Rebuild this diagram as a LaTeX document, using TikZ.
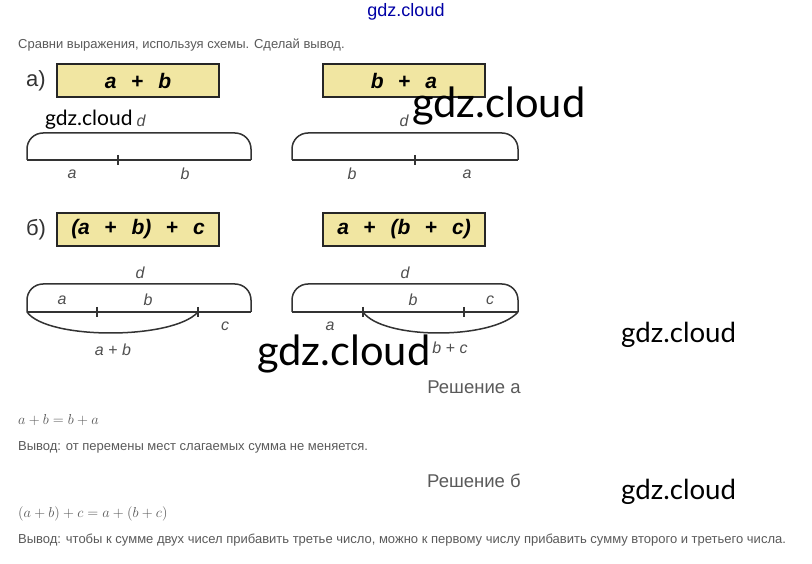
\documentclass[tikz,border=0pt]{standalone}
\usepackage{fontspec}
\setmainfont{Liberation Sans}
\newfontfamily\wmfont{Lato}
\newfontfamily\webfont{Liberation Sans}
\definecolor{boxyellow}{HTML}{F1E6A2}
\definecolor{webgray}{HTML}{5A5A5A}
\definecolor{lblgray}{HTML}{505050}
\newcommand{\bplus}{\hspace{0.7em}{\upshape+}\hspace{0.7em}}
\begin{document}
\begin{tikzpicture}[x=1pt,y=-1pt,
  box/.style={draw=black!85, line width=1.3pt, fill=boxyellow, minimum width=162pt, minimum height=33pt, inner sep=0pt, font=\fontsize{21}{23}\selectfont\bfseries\itshape},
  seg/.style={line width=1.5pt, draw=black!80},
  brace/.style={seg, rounded corners=16pt},
  lbl/.style={font=\fontsize{16}{18}\selectfont\itshape, text=lblgray, inner sep=0pt},
  part/.style={font=\fontsize{22}{24}\selectfont, text=black!80, inner sep=0pt},
  wmsmall/.style={font=\wmfont\fontsize{21}{22}\selectfont, inner sep=0pt, anchor=base west},
  wmmid/.style={font=\wmfont\fontsize{27.6}{29}\selectfont, inner sep=0pt, anchor=base west},
  wmbig/.style={font=\wmfont\fontsize{41.6}{43}\selectfont, inner sep=0pt, anchor=base west},
  web/.style={font=\webfont\fontsize{13}{15}\selectfont, text=webgray, anchor=west, inner sep=0pt},
  head/.style={font=\webfont\fontsize{18.5}{20}\selectfont, text=webgray, inner sep=0pt},
  mathline/.style={font=\fontsize{14.6}{16}\selectfont, text=webgray, anchor=west, inner sep=0pt}
]
\useasboundingbox[fill=white] (0,0) rectangle (812,564);

% top watermark
\node[font=\webfont\fontsize{18}{20}\selectfont, text=blue!65!black, inner sep=0pt] (topwm) at (406,12) {gdz.cloud};
\node[web] (task) at (18,45) {Сравни выражения, используя схемы. Сделай вывод.};

% ---------- part a ----------
\node[part] (pa) at (36,81) {а)};
\node[box] (boxab) at (138,80.5) {a\bplus b};
\node[box] (boxba) at (404,80.5) {b\bplus a};

% left scheme a
\coordinate (A0) at (27,160);
\coordinate (A1) at (118,160);
\coordinate (A2) at (251,160);
\coordinate (Atop) at (0,133);
\draw[brace] (A0) -- (A0 |- Atop) -- (A2 |- Atop) -- (A2);
\draw[seg] (A0) -- (A2);
\draw[seg] ([yshift=5pt]A1) -- ([yshift=-5pt]A1);
\node[lbl] (Ad) at (141,121) {d};
\node[lbl] (Aa) at (72,174) {a};
\node[lbl] (Ab) at (185,174) {b};

% right scheme a
\coordinate (B0) at (292,160);
\coordinate (B1) at (415,160);
\coordinate (B2) at (518,160);
\draw[brace] (B0) -- (B0 |- Atop) -- (B2 |- Atop) -- (B2);
\draw[seg] (B0) -- (B2);
\draw[seg] ([yshift=5pt]B1) -- ([yshift=-5pt]B1);
\node[lbl] (Bd) at (404,121) {d};
\node[lbl] (Bb) at (352,174) {b};
\node[lbl] (Ba) at (467,174) {a};

% ---------- part b ----------
\node[part] (pb) at (36,230) {б)};
\node[box] (boxabc) at (138,229.5) {(a\bplus b)\bplus c};
\node[box] (boxabc2) at (404,229.5) {a\bplus (b\bplus c)};

% left scheme b
\coordinate (C0) at (27,312);
\coordinate (C1) at (97,312);
\coordinate (C2) at (198,312);
\coordinate (C3) at (251,312);
\coordinate (Ctop) at (0,284);
\draw[brace] (C0) -- (C0 |- Ctop) -- (C3 |- Ctop) -- (C3);
\draw[seg] (C0) -- (C3);
\draw[seg] ([yshift=5pt]C1) -- ([yshift=-5pt]C1);
\draw[seg] ([yshift=5pt]C2) -- ([yshift=-5pt]C2);
\draw[seg] (C0) .. controls ([shift={(20,28)}]C0) and ([shift={(-25,28)}]C2) .. (C2);
\node[lbl] (Cd) at (140,273) {d};
\node[lbl] (Ca) at (62,300) {a};
\node[lbl] (Cb) at (148,300) {b};
\node[lbl] (Cc) at (225,326) {c};
\node[lbl] (Cab) at (113,350) {a {\upshape+} b};

% right scheme b
\coordinate (D0) at (292,312);
\coordinate (D1) at (363,312);
\coordinate (D2) at (464,312);
\coordinate (D3) at (518,312);
\draw[brace] (D0) -- (D0 |- Ctop) -- (D3 |- Ctop) -- (D3);
\draw[seg] (D0) -- (D3);
\draw[seg] ([yshift=5pt]D1) -- ([yshift=-5pt]D1);
\draw[seg] ([yshift=5pt]D2) -- ([yshift=-5pt]D2);
\draw[seg] (D1) .. controls ([shift={(20,28)}]D1) and ([shift={(-25,28)}]D3) .. (D3);
\node[lbl] (Dd) at (405,273) {d};
\node[lbl] (Db) at (413,300) {b};
\node[lbl] (Dc) at (490,300) {c};
\node[lbl] (Da) at (330,326) {a};
\node[lbl] (Dbc) at (450,348) {b {\upshape+} c};

% watermarks
\node[wmsmall] (wm1) at (45,126) {gdz.cloud};
\node[wmbig] (wm2) at (412,118) {gdz.cloud};
\node[wmbig] (wm3) at (257,365) {gdz.cloud};
\node[wmmid] (wm4) at (621,343) {gdz.cloud};
\node[wmmid] (wm5) at (621,499) {gdz.cloud};

% solutions
\node[head] (sa) at (474,387) {Решение а};
\node[mathline] (ma) at (18,420) {$a+b=b+a$};
\node[web] (va) at (18,447) {Вывод: от перемены мест слагаемых сумма не меняется.};
\node[head] (sb) at (474,481) {Решение б};
\node[mathline] (mb) at (18,514) {$(a+b)+c=a+(b+c)$};
\node[web] (vb) at (18,540) {Вывод: чтобы к сумме двух чисел прибавить третье число, можно к первому числу прибавить сумму второго и третьего числа.};
\end{tikzpicture}
\end{document}
